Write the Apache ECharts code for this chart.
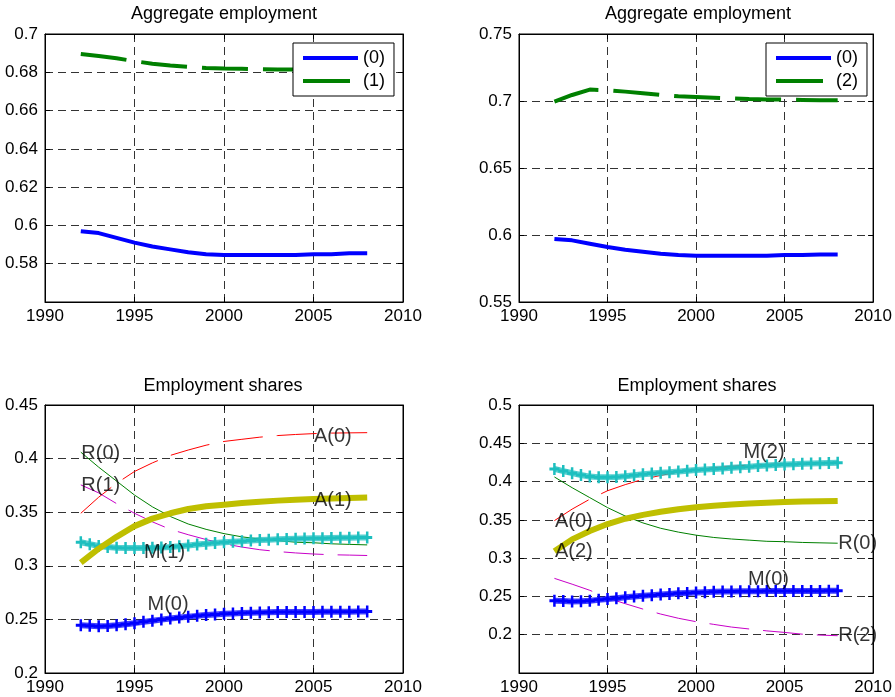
<!DOCTYPE html>
<html>
<head>
<meta charset="utf-8">
<script src="https://cdn.jsdelivr.net/npm/echarts@6/dist/echarts.min.js"></script>
<style>html,body{margin:0;padding:0;background:#fff}#c{width:895px;height:697px}</style>
</head>
<body>
<div id="c"></div>
<script>
// ---------------- data ----------------
const years = [1992,1993,1994,1995,1996,1997,1998,1999,2000,2001,2002,2003,2004,2005,2006,2007,2008];
const halfYears = [1992,1992.5,1993,1993.5,1994,1994.5,1995,1995.5,1996,1996.5,1997,1997.5,1998,1998.5,1999,1999.5,2000,2000.5,2001,2001.5,2002,2002.5,2003,2003.5,2004,2004.5,2005,2005.5,2006,2006.5,2007,2007.5,2008];

// Aggregate employment
const agg0 = [0.597,0.596,0.5935,0.591,0.589,0.5875,0.586,0.585,0.5845,0.5845,0.5845,0.5845,0.5845,0.585,0.585,0.5855,0.5855];
const agg1 = [0.6895,0.6885,0.6873,0.6858,0.6845,0.6835,0.6828,0.6823,0.682,0.6818,0.6816,0.6815,0.6814,0.6813,0.6812,0.6812,0.6812];
const agg2 = [0.6995,0.7045,0.7085,0.708,0.707,0.7058,0.7045,0.7035,0.703,0.7025,0.702,0.7015,0.7012,0.701,0.7008,0.7005,0.7005];

// Employment shares (annual)
const A0 = [0.349,0.364,0.377,0.388,0.396,0.403,0.408,0.4125,0.416,0.418,0.420,0.4215,0.4225,0.4233,0.4238,0.424,0.4242];
const A1 = [0.303,0.316,0.327,0.337,0.344,0.349,0.353,0.3555,0.357,0.3585,0.3598,0.3608,0.3615,0.3622,0.3628,0.3633,0.3637];
const A2 = [0.309,0.3245,0.3355,0.3445,0.3515,0.3565,0.3605,0.3638,0.3665,0.3685,0.3702,0.3715,0.3725,0.3733,0.374,0.3744,0.3747];
const R0 = [0.406,0.392,0.379,0.366,0.355,0.346,0.339,0.334,0.330,0.327,0.325,0.3235,0.322,0.3215,0.3205,0.320,0.3195];
const R1 = [0.3755,0.368,0.358,0.349,0.341,0.334,0.329,0.3245,0.3205,0.3175,0.315,0.3133,0.312,0.311,0.3103,0.310,0.3096];
const R2 = [0.2736,0.266,0.258,0.248,0.2405,0.2335,0.227,0.2215,0.217,0.2135,0.210,0.2075,0.205,0.203,0.2007,0.1995,0.1987];

// Employment shares (half-yearly, marker series)
const M0 = [0.2445,0.244,0.2435,0.2438,0.2445,0.2455,0.2465,0.2477,0.2488,0.2498,0.2508,0.2517,0.2525,0.2533,0.254,0.2546,0.2552,0.2556,0.256,0.2563,0.2565,0.2567,0.2568,0.2569,0.257,0.257,0.257,0.2571,0.2571,0.2572,0.2572,0.2573,0.2574];
const M1 = [0.322,0.3202,0.3185,0.3175,0.3168,0.3165,0.3165,0.3166,0.3168,0.3171,0.3175,0.3182,0.319,0.3198,0.3205,0.3213,0.322,0.3225,0.323,0.3235,0.324,0.3244,0.3247,0.325,0.3252,0.3254,0.3256,0.3258,0.326,0.3261,0.3262,0.3264,0.3265];
const M2 = [0.4165,0.4137,0.411,0.4086,0.4065,0.4058,0.4055,0.406,0.407,0.4082,0.4095,0.4105,0.4115,0.4122,0.413,0.414,0.415,0.4158,0.4165,0.4172,0.418,0.4188,0.4195,0.4203,0.421,0.4216,0.4222,0.4227,0.4232,0.4236,0.424,0.4244,0.4247];

// text annotations [name, x, y]
const labelsBL = [['R(0)',1992,0.4048],['R(1)',1992,0.3745],['A(0)',2005,0.4205],['A(1)',2005,0.3609],['M(1)',1995.5,0.3124],['M(0)',1995.7,0.2643]];
const labelsBR = [['M(2)',2002.65,0.4377],['A(0)',1992,0.3476],['A(2)',1992,0.3085],['R(0)',2008,0.3193],['M(0)',2002.9,0.2723],['R(2)',2008,0.1987]];

const titles = ['Aggregate employment','Aggregate employment','Employment shares','Employment shares'];
const yRanges = [[0.56,0.7,0.02],[0.55,0.75,0.05],[0.2,0.45,0.05],[0.15,0.5,0.05]];

// ---------------- styling ----------------
const FONT = 'Liberation Sans, Arial, Helvetica, sans-serif';
const C = {blue:'#0000ff', green:'#008000', red:'#ff0000', mag:'#c800c8', yel:'#bfbf00', cyan:'#1dbfbf', dgreen:'#008000'};
const plus = 'path://M3,0H5V3H8V5H5V8H3V5H0V3H3Z';
const iconSolid = 'path://M0,0H55V4H0Z';
const iconDash = 'path://M0,0H47V4H0ZM54.9,0H55V0.01H54.9Z';

const gridPos = [
  {left:45, top:34, width:358, height:268},
  {left:519, top:34, width:358, height:268},
  {left:45, top:405, width:358, height:268},
  {left:519, top:405, width:358, height:268}
];
const titlePos = [[224,14],[698,14],[223,386],[697,386]];

const zip = (xs, ys) => xs.map((x,i)=>[x, ys[i]]);

const grid = gridPos.map(g => Object.assign({show:true, borderColor:'#000', borderWidth:1, backgroundColor:'#fff', containLabel:false}, g));
const xAxis = [], yAxis = [];
gridPos.forEach((g, gi) => {
  const [ymin, ymax, yint] = yRanges[gi];
  xAxis.push({gridIndex:gi, type:'value', min:1990, max:2010, interval:5, position:'bottom',
    axisLine:{show:true, onZero:false, lineStyle:{color:'#000', width:1}},
    axisTick:{show:true, inside:true, length:5, lineStyle:{color:'#000'}},
    axisLabel:{show:true, fontSize:17, fontFamily:FONT, color:'#000', margin:6, showMinLabel:true, showMaxLabel:true,
      formatter: v => String(Math.round(v))},
    splitLine:{show:true, lineStyle:{color:'#333', type:[8,5], width:1}}
  });
  xAxis.push({gridIndex:gi, type:'value', min:1990, max:2010, interval:5, position:'top',
    axisLine:{show:true, onZero:false, lineStyle:{color:'#000'}},
    axisTick:{show:true, inside:true, length:5, lineStyle:{color:'#000'}},
    axisLabel:{show:false}, splitLine:{show:false}
  });
  yAxis.push({gridIndex:gi, type:'value', min:ymin, max:ymax, interval:yint, position:'left',
    axisLine:{show:true, onZero:false, lineStyle:{color:'#000', width:1}},
    axisTick:{show:true, inside:true, length:5, lineStyle:{color:'#000'}},
    axisLabel:{show:true, fontSize:17, fontFamily:FONT, color:'#000', margin:7, showMinLabel:true, showMaxLabel:true,
      formatter: v => ((gi===0 || gi===3) && Math.abs(v-ymin) < 1e-9) ? '' : String(+v.toFixed(2))},
    splitLine:{show:true, lineStyle:{color:'#333', type:[8,5], width:1}}
  });
  yAxis.push({gridIndex:gi, type:'value', min:ymin, max:ymax, interval:yint, position:'right',
    axisLine:{show:true, onZero:false, lineStyle:{color:'#000'}},
    axisTick:{show:true, inside:true, length:5, lineStyle:{color:'#000'}},
    axisLabel:{show:false}, splitLine:{show:false}
  });
});

function line(name, gi, xs, ys, color, width, type, z) {
  return {name, type:'line', xAxisIndex:2*gi, yAxisIndex:2*gi, data:zip(xs, ys), symbol:'none', smooth:false,
    lineStyle:{color, width, type}, itemStyle:{color}, z: z || 2, silent:true};
}
function markerLine(name, gi, xs, ys, color, z) {
  return {name, type:'line', xAxisIndex:2*gi, yAxisIndex:2*gi, data:zip(xs, ys), symbol:plus, symbolSize:[10,12], showSymbol:true,
    lineStyle:{color, width:6, opacity:0.75}, itemStyle:{color, opacity:1}, z: z || 3, silent:true};
}
function labels(gi, arr) {
  return {type:'scatter', xAxisIndex:2*gi, yAxisIndex:2*gi, symbolSize:1, itemStyle:{color:'rgba(0,0,0,0)'}, z:10, silent:true,
    data: arr.map(a => ({name:a[0], value:[a[1], a[2]]})),
    label:{show:true, position:'right', distance:0, formatter:'{b}', fontSize:20, fontFamily:FONT, color:'#000'}};
}

const series = [
  line('(0)', 0, years, agg0, C.blue, 4, 'solid'),
  line('(1)', 0, years, agg1, C.green, 4, [46,15]),
  line('(0)', 1, years, agg0, C.blue, 4, 'solid'),
  line('(2)', 1, years, agg2, C.green, 4, [46,15]),

  line('A(0)', 2, years, A0, C.red, 1, [40,14]),
  line('R(0)', 2, years, R0, C.dgreen, 1, 'solid'),
  line('R(1)', 2, years, R1, C.mag, 1, [40,14]),
  markerLine('M(0)', 2, halfYears, M0, C.blue),
  markerLine('M(1)', 2, halfYears, M1, C.cyan),
  line('A(1)', 2, years, A1, C.yel, 6, 'solid', 4),
  labels(2, labelsBL),

  line('A(0) ', 3, years, A0, C.red, 1, [40,14]),
  line('R(0) ', 3, years, R0, C.dgreen, 1, 'solid'),
  line('R(2)', 3, years, R2, C.mag, 1, [40,14]),
  markerLine('M(0) ', 3, halfYears, M0, C.blue),
  markerLine('M(2)', 3, halfYears, M2, C.cyan),
  line('A(2)', 3, years, A2, C.yel, 6, 'solid', 4),
  labels(3, labelsBR)
];

const legendBase = {orient:'vertical', itemWidth:55, itemHeight:4, itemGap:5, padding:[6,9,6,10],
  borderColor:'#000', borderWidth:1, borderRadius:0, backgroundColor:'#fff', selectedMode:false,
  textStyle:{fontSize:18, fontFamily:FONT, color:'#000', lineHeight:18}, z:20};
const legend = [
  Object.assign({data:[{name:'(0)', icon:iconSolid}, {name:'(1)', icon:iconDash}], left:293, top:43}, legendBase),
  Object.assign({data:[{name:'(0)', icon:iconSolid}, {name:'(2)', icon:iconDash}], left:766, top:43}, legendBase)
];

const graphic = titles.map((t, i) => ({type:'text', x:titlePos[i][0], y:titlePos[i][1], z:50,
  style:{text:t, fontSize:18, fontFamily:FONT, fill:'#000', align:'center', verticalAlign:'middle'}}));

const chart = echarts.init(document.getElementById('c'), null, {renderer:'canvas'});
chart.setOption({animation:false, backgroundColor:'#fff', grid, xAxis, yAxis, series, legend, graphic});
</script>
</body>
</html>
